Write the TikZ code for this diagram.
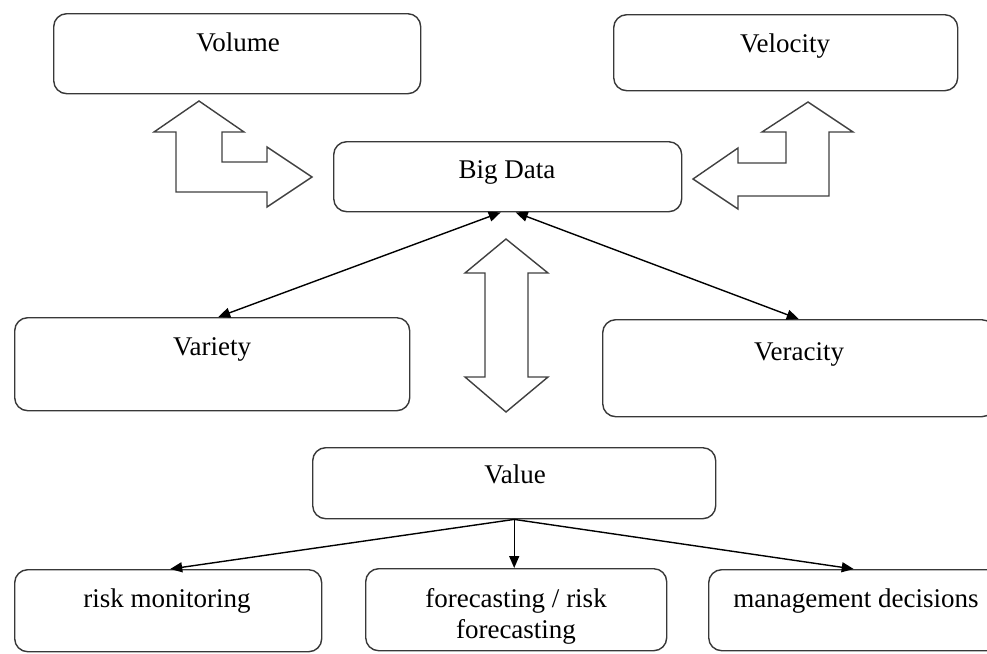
\documentclass[tikz,border=0pt]{standalone}
\usepackage{fontspec}
\setmainfont{Liberation Serif}
\usetikzlibrary{arrows.meta}
\begin{document}
\begin{tikzpicture}[x=1pt,y=-1pt,
  box/.style={draw=black!78, line width=1.4pt, rounded corners=13pt, fill=white, inner sep=0pt, anchor=north west},
  lbl/.style={font=\fontsize{27}{31}\selectfont, inner sep=0pt, align=center, anchor=base},
  con/.style={line width=1.4pt, draw=black, -{Triangle[length=12pt,width=10pt]}},
  dcon/.style={line width=1.4pt, draw=black, {Triangle[length=12pt,width=10pt]}-{Triangle[length=12pt,width=10pt]}},
  blockarrow/.style={draw=black!75, line width=1.4pt, fill=white, line join=miter}
]
\useasboundingbox (0,0) rectangle (987,653);
\clip (0,0) rectangle (987,653);

% boxes
\node[box, minimum width=367pt, minimum height=80pt] (volume) at (53,13) {};
\node[lbl] (volume-t) at (238,51) {Volume};

\node[box, minimum width=344pt, minimum height=76pt] (velocity) at (613,14) {};
\node[lbl] (velocity-t) at (785,52) {Velocity};

\node[box, minimum width=348pt, minimum height=70pt] (bigdata) at (333,141) {};
\node[lbl] (bigdata-t) at (507,178) {Big Data};

\node[box, minimum width=395pt, minimum height=93pt] (variety) at (14,317) {};
\node[lbl] (variety-t) at (212,355) {Variety};

\node[box, minimum width=392pt, minimum height=97pt] (veracity) at (602,319) {};
\node[lbl] (veracity-t) at (799,360) {Veracity};

\node[box, minimum width=403pt, minimum height=71pt] (value) at (312,447) {};
\node[lbl] (value-t) at (515,483) {Value};

\node[box, minimum width=307pt, minimum height=82pt] (risk) at (14,569) {};
\node[lbl] (risk-t) at (167,607) {risk monitoring};

\node[box, minimum width=301pt, minimum height=82pt] (fc) at (365,568) {};
\node[lbl, anchor=center] (fc-t) at (516,616) {forecasting / risk\\forecasting};

\node[box, minimum width=296pt, minimum height=81pt] (mg) at (708,569) {};
\node[lbl] (mg-t) at (856,607) {management decisions};

% block arrows
\draw[blockarrow] (199,101) -- (244,132) -- (222,132) -- (222,162) -- (267,162) -- (267,147)
  -- (312,177) -- (267,207) -- (267,192) -- (176,192) -- (176,132) -- (154,132) -- cycle;
\draw[blockarrow] (808,102) -- (853,132) -- (829,132) -- (829,196) -- (738,196) -- (738,209)
  -- (693,179) -- (738,148) -- (738,163) -- (786,163) -- (786,132) -- (762,132) -- cycle;
\draw[blockarrow] (506,239) -- (548,273) -- (528,273) -- (528,377) -- (548,377) -- (506,412)
  -- (465,377) -- (485,377) -- (485,273) -- (465,273) -- cycle;

% connectors
\coordinate (bd-l) at ([xshift=-7pt]bigdata.south);
\coordinate (bd-r) at ([xshift=8pt]bigdata.south);
\coordinate (var-n) at ([xshift=6pt]variety.north);
\draw[dcon] (var-n) -- (bd-l);
\draw[dcon] (veracity.north) -- (bd-r);
\draw[con] (value.south) -- ([xshift=2pt]risk.north);
\draw[con] (value.south) -- (value.south |- fc.north);
\draw[con] (value.south) -- ([xshift=-3pt]mg.north);
\end{tikzpicture}
\end{document}
